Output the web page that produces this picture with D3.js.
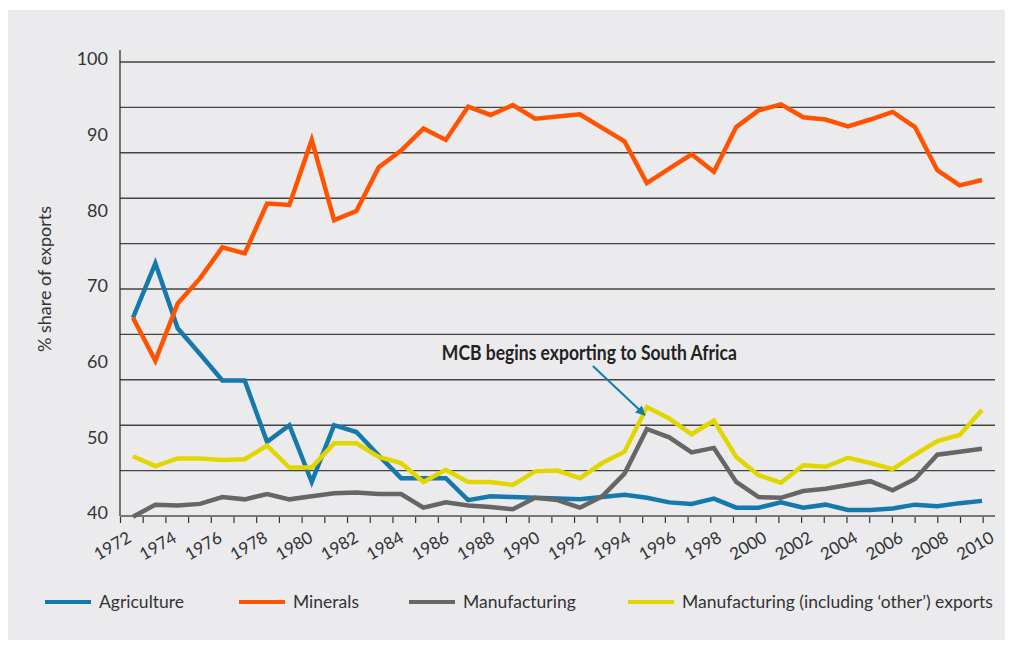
<!DOCTYPE html>
<html>
<head>
<meta charset="utf-8">
<script src="https://cdn.jsdelivr.net/npm/d3@7"></script>
<style>
  body { margin: 0; background: #fff; }
  text { font-family: Lato, "Open Sans", sans-serif; font-weight: 400; fill: #333; }
</style>
</head>
<body>
<script>
const years = d3.range(1972, 2011);

const agriculture = [66.2, 73.4, 64.8, 61.4, 57.9, 57.9, 49.8, 52.0, 44.5, 52.0,
  51.1, 48.0, 45.0, 45.0, 45.0, 42.1, 42.6, 42.5, 42.4, 42.3,
  42.2, 42.5, 42.8, 42.4, 41.8, 41.6, 42.3, 41.1, 41.1, 41.8,
  41.1, 41.5, 40.8, 40.8, 41.0, 41.5, 41.3, 41.7, 42.0];

const minerals = [66.2, 60.5, 68.1, 71.4, 75.5, 74.7, 81.3, 81.1, 89.7, 79.1,
  80.3, 86.1, 88.3, 91.2, 89.7, 94.1, 93.0, 94.3, 92.5, 92.8,
  93.1, 91.3, 89.5, 84.0, 85.9, 87.8, 85.5, 91.4, 93.6, 94.4,
  92.7, 92.4, 91.5, 92.4, 93.4, 91.4, 85.7, 83.7, 84.4];

const manufacturing = [39.9, 41.5, 41.4, 41.6, 42.5, 42.2, 42.9, 42.2, 42.6, 43.0,
  43.1, 42.9, 42.9, 41.1, 41.8, 41.4, 41.2, 40.9, 42.4, 42.1,
  41.1, 42.6, 45.6, 51.5, 50.4, 48.4, 49.0, 44.5, 42.5, 42.4,
  43.3, 43.6, 44.1, 44.6, 43.4, 44.9, 48.1, 48.5, 48.9];

const manufOther = [47.9, 46.6, 47.6, 47.6, 47.4, 47.5, 49.3, 46.4, 46.4, 49.6,
  49.6, 47.8, 47.0, 44.5, 46.1, 44.5, 44.5, 44.1, 45.9, 46.0,
  45.0, 47.0, 48.5, 54.4, 52.9, 50.8, 52.6, 47.8, 45.4, 44.4,
  46.7, 46.5, 47.7, 47.0, 46.2, 48.1, 49.9, 50.7, 54.0];

const yLabels = [40, 50, 60, 70, 80, 90, 100];
const gridValues = d3.range(46, 101, 6);

const series = [
  { name: "Agriculture", values: agriculture, color: "#1679ad" },
  { name: "Manufacturing", values: manufacturing, color: "#666666" },
  { name: "Manufacturing (including \u2018other\u2019) exports", values: manufOther, color: "#e2d600" },
  { name: "Minerals", values: minerals, color: "#ff5300" }
];
const legendOrder = ["Agriculture", "Minerals", "Manufacturing", "Manufacturing (including \u2018other\u2019) exports"];
const legendX = [45, 239, 409, 628];

const w = 1015;
const h = 649;

const xScale = d3.scaleLinear().domain([1972, 2010]).range([133, 982]);
const tickScale = d3.scaleLinear().domain([1972, 2010]).range([120, 982.7]);
const yScale = d3.scaleLinear().domain([40, 100]).range([516, 62]);

const svg = d3.select("body").append("svg")
  .attr("width", w)
  .attr("height", h);

svg.append("rect")
  .attr("x", 8).attr("y", 10)
  .attr("width", 997).attr("height", 630)
  .attr("fill", "#ebebee");

// gridlines
svg.selectAll(".grid")
  .data(gridValues)
  .enter()
  .append("line")
  .attr("class", "grid")
  .attr("x1", 120).attr("x2", 995)
  .attr("y1", d => yScale(d)).attr("y2", d => yScale(d))
  .attr("stroke", "#444")
  .attr("stroke-width", 1.4);

// y axis
svg.append("line")
  .attr("x1", 120).attr("x2", 120)
  .attr("y1", 50).attr("y2", yScale(40))
  .attr("stroke", "#333")
  .attr("stroke-width", 1.3);

svg.selectAll(".ylab")
  .data(yLabels)
  .enter()
  .append("text")
  .attr("class", "ylab")
  .attr("x", 108)
  .attr("y", d => yScale(d) - 3)
  .attr("dy", "0.35em")
  .attr("text-anchor", "end")
  .attr("font-size", 18)
  .text(d => d);

svg.append("text")
  .attr("transform", "translate(51,279) rotate(-90)")
  .attr("text-anchor", "middle")
  .attr("font-size", 18)
  .text("% share of exports");

// x axis
const xAxis = d3.axisBottom(tickScale)
  .tickValues(years)
  .tickSize(7)
  .tickSizeOuter(0)
  .tickFormat(d => d % 2 === 0 ? d : "");

const gx = svg.append("g")
  .attr("transform", "translate(0," + yScale(40) + ")")
  .call(xAxis);

gx.select(".domain").remove();
gx.selectAll(".tick line").attr("stroke", "#333").attr("stroke-width", 1.2);
gx.selectAll(".tick text")
  .attr("font-size", 17)
  .attr("fill", "#333")
  .attr("text-anchor", "end")
  .attr("y", 0).attr("dy", 0)
  .attr("transform", "translate(12,25) rotate(-30)");

svg.append("line")
  .attr("x1", 120).attr("x2", 995)
  .attr("y1", yScale(40)).attr("y2", yScale(40))
  .attr("stroke", "#777")
  .attr("stroke-width", 2);

// lines
const line = d3.line()
  .x((d, i) => xScale(years[i]))
  .y(d => yScale(d));

svg.selectAll(".series")
  .data(series)
  .enter()
  .append("path")
  .attr("class", "series")
  .attr("d", d => line(d.values))
  .attr("fill", "none")
  .attr("stroke", d => d.color)
  .attr("stroke-width", 4.5)
  .attr("stroke-linejoin", "miter");

// annotation
svg.append("defs").append("marker")
  .attr("id", "arrow")
  .attr("viewBox", "0 0 10 10")
  .attr("refX", 9).attr("refY", 5)
  .attr("markerWidth", 5).attr("markerHeight", 5)
  .attr("orient", "auto")
  .append("path")
  .attr("d", "M0,0 L10,5 L0,10 z")
  .attr("fill", "#1679ad");

const i95 = years.indexOf(1995);
const tipX = xScale(1995) - 2;
const tipY = yScale(manufOther[i95]) + 8;

svg.append("line")
  .attr("x1", tipX - 52).attr("y1", tipY - 49)
  .attr("x2", tipX).attr("y2", tipY)
  .attr("stroke", "#1679ad")
  .attr("stroke-width", 2)
  .attr("marker-end", "url(#arrow)");

svg.append("text")
  .attr("x", tipX - 203)
  .attr("y", tipY - 55)
  .attr("font-size", 20)
  .attr("textLength", 295)
  .attr("lengthAdjust", "spacingAndGlyphs")
  .style("font-weight", 700)
  .style("fill", "#222")
  .text("MCB begins exporting to South Africa");

// legend
const legend = svg.selectAll(".legend")
  .data(legendOrder)
  .enter()
  .append("g")
  .attr("class", "legend")
  .attr("transform", (d, i) => "translate(" + legendX[i] + ",602)");

legend.append("line")
  .attr("x1", 0).attr("x2", 46)
  .attr("stroke", d => series.find(s => s.name === d).color)
  .attr("stroke-width", 4);

legend.append("text")
  .attr("x", 54)
  .attr("dy", "0.33em")
  .attr("font-size", 17.5)
  .text(d => d);
</script>
</body>
</html>
